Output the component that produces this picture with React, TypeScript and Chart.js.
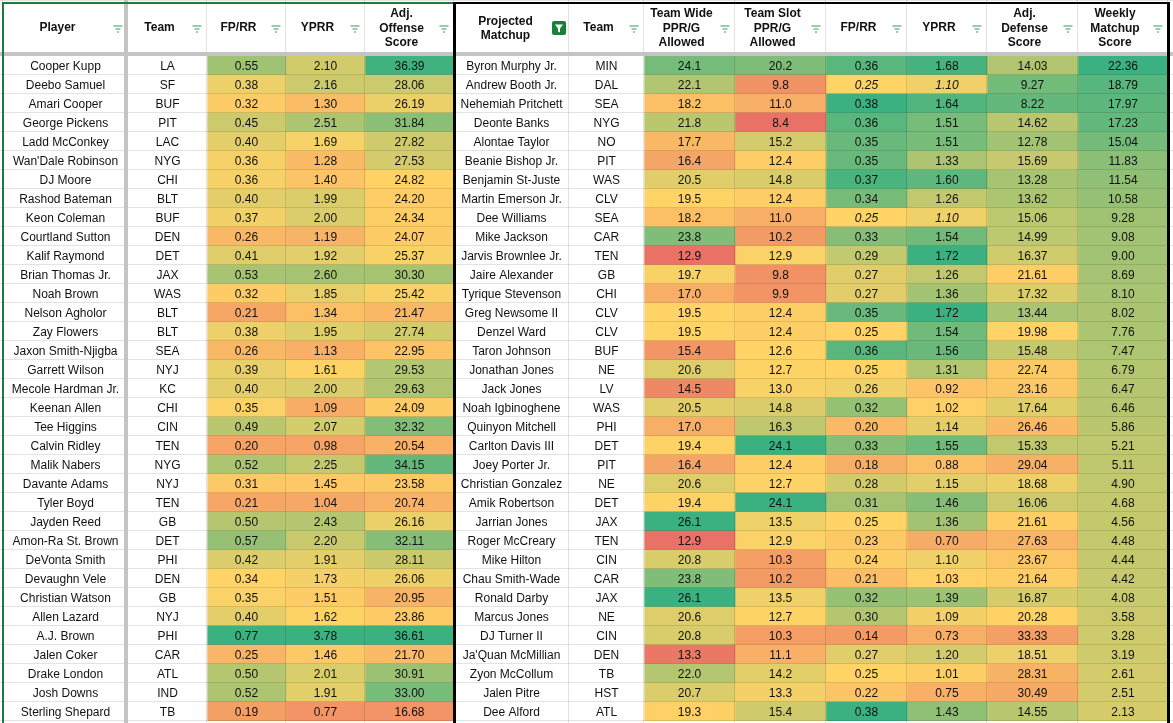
import React, { useEffect, useRef } from 'react';
import { Chart, registerables } from 'chart.js';

Chart.register(...registerables);

// ---------- data ----------
const players = [
  'Cooper Kupp', 'Deebo Samuel', 'Amari Cooper', 'George Pickens', 'Ladd McConkey', "Wan'Dale Robinson",
  'DJ Moore', 'Rashod Bateman', 'Keon Coleman', 'Courtland Sutton', 'Kalif Raymond', 'Brian Thomas Jr.',
  'Noah Brown', 'Nelson Agholor', 'Zay Flowers', 'Jaxon Smith-Njigba', 'Garrett Wilson', 'Mecole Hardman Jr.',
  'Keenan Allen', 'Tee Higgins', 'Calvin Ridley', 'Malik Nabers', 'Davante Adams', 'Tyler Boyd',
  'Jayden Reed', 'Amon-Ra St. Brown', 'DeVonta Smith', 'Devaughn Vele', 'Christian Watson', 'Allen Lazard',
  'A.J. Brown', 'Jalen Coker', 'Drake London', 'Josh Downs', 'Sterling Shepard',
];
const offTeams = [
  'LA', 'SF', 'BUF', 'PIT', 'LAC', 'NYG', 'CHI', 'BLT', 'BUF', 'DEN', 'DET', 'JAX', 'WAS', 'BLT', 'BLT', 'SEA',
  'NYJ', 'KC', 'CHI', 'CIN', 'TEN', 'NYG', 'NYJ', 'TEN', 'GB', 'DET', 'PHI', 'DEN', 'GB', 'NYJ', 'PHI', 'CAR',
  'ATL', 'IND', 'TB',
];
const offFpRr = [
  0.55, 0.38, 0.32, 0.45, 0.40, 0.36, 0.36, 0.40, 0.37, 0.26, 0.41, 0.53, 0.32, 0.21, 0.38, 0.26, 0.39, 0.40,
  0.35, 0.49, 0.20, 0.52, 0.31, 0.21, 0.50, 0.57, 0.42, 0.34, 0.35, 0.40, 0.77, 0.25, 0.50, 0.52, 0.19,
];
const offYprr = [
  2.10, 2.16, 1.30, 2.51, 1.69, 1.28, 1.40, 1.99, 2.00, 1.19, 1.92, 2.60, 1.85, 1.34, 1.95, 1.13, 1.61, 2.00,
  1.09, 2.07, 0.98, 2.25, 1.45, 1.04, 2.43, 2.20, 1.91, 1.73, 1.51, 1.62, 3.78, 1.46, 2.01, 1.91, 0.77,
];
const offScore = [
  36.39, 28.06, 26.19, 31.84, 27.82, 27.53, 24.82, 24.20, 24.34, 24.07, 25.37, 30.30, 25.42, 21.47, 27.74,
  22.95, 29.53, 29.63, 24.09, 32.32, 20.54, 34.15, 23.58, 20.74, 26.16, 32.11, 28.11, 26.06, 20.95, 23.86,
  36.61, 21.70, 30.91, 33.00, 16.68,
];
const defenders = [
  'Byron Murphy Jr.', 'Andrew Booth Jr.', 'Nehemiah Pritchett', 'Deonte Banks', 'Alontae Taylor',
  'Beanie Bishop Jr.', 'Benjamin St-Juste', 'Martin Emerson Jr.', 'Dee Williams', 'Mike Jackson',
  'Jarvis Brownlee Jr.', 'Jaire Alexander', 'Tyrique Stevenson', 'Greg Newsome II', 'Denzel Ward',
  'Taron Johnson', 'Jonathan Jones', 'Jack Jones', 'Noah Igbinoghene', 'Quinyon Mitchell', 'Carlton Davis III',
  'Joey Porter Jr.', 'Christian Gonzalez', 'Amik Robertson', 'Jarrian Jones', 'Roger McCreary', 'Mike Hilton',
  'Chau Smith-Wade', 'Ronald Darby', 'Marcus Jones', 'DJ Turner II', "Ja'Quan McMillian", 'Zyon McCollum',
  'Jalen Pitre', 'Dee Alford',
];
const defTeams = [
  'MIN', 'DAL', 'SEA', 'NYG', 'NO', 'PIT', 'WAS', 'CLV', 'SEA', 'CAR', 'TEN', 'GB', 'CHI', 'CLV', 'CLV', 'BUF',
  'NE', 'LV', 'WAS', 'PHI', 'DET', 'PIT', 'NE', 'DET', 'JAX', 'TEN', 'CIN', 'CAR', 'JAX', 'NE', 'CIN', 'DEN',
  'TB', 'HST', 'ATL',
];
const teamWideAllowed = [
  24.1, 22.1, 18.2, 21.8, 17.7, 16.4, 20.5, 19.5, 18.2, 23.8, 12.9, 19.7, 17.0, 19.5, 19.5, 15.4, 20.6, 14.5,
  20.5, 17.0, 19.4, 16.4, 20.6, 19.4, 26.1, 12.9, 20.8, 23.8, 26.1, 20.6, 20.8, 13.3, 22.0, 20.7, 19.3,
];
const teamSlotAllowed = [
  20.2, 9.8, 11.0, 8.4, 15.2, 12.4, 14.8, 12.4, 11.0, 10.2, 12.9, 9.8, 9.9, 12.4, 12.4, 12.6, 12.7, 13.0,
  14.8, 16.3, 24.1, 12.4, 12.7, 24.1, 13.5, 12.9, 10.3, 10.2, 13.5, 12.7, 10.3, 11.1, 14.2, 13.3, 15.4,
];
const defFpRr = [
  0.36, 0.25, 0.38, 0.36, 0.35, 0.35, 0.37, 0.34, 0.25, 0.33, 0.29, 0.27, 0.27, 0.35, 0.25, 0.36, 0.25, 0.26,
  0.32, 0.20, 0.33, 0.18, 0.28, 0.31, 0.25, 0.23, 0.24, 0.21, 0.32, 0.30, 0.14, 0.27, 0.25, 0.22, 0.38,
];
const defYprr = [
  1.68, 1.10, 1.64, 1.51, 1.51, 1.33, 1.60, 1.26, 1.10, 1.54, 1.72, 1.26, 1.36, 1.72, 1.54, 1.56, 1.31, 0.92,
  1.02, 1.14, 1.55, 0.88, 1.15, 1.46, 1.36, 0.70, 1.10, 1.03, 1.39, 1.09, 0.73, 1.20, 1.01, 0.75, 1.43,
];
const defScore = [
  14.03, 9.27, 8.22, 14.62, 12.78, 15.69, 13.28, 13.62, 15.06, 14.99, 16.37, 21.61, 17.32, 13.44, 19.98,
  15.48, 22.74, 23.16, 17.64, 26.46, 15.33, 29.04, 18.68, 16.06, 21.61, 27.63, 23.67, 21.64, 16.87, 20.28,
  33.33, 18.51, 28.31, 30.49, 14.55,
];
const weeklyMatchupScore = [
  22.36, 18.79, 17.97, 17.23, 15.04, 11.83, 11.54, 10.58, 9.28, 9.08, 9.00, 8.69, 8.10, 8.02, 7.76, 7.47,
  6.79, 6.47, 6.46, 5.86, 5.21, 5.11, 4.90, 4.68, 4.56, 4.48, 4.44, 4.42, 4.08, 3.58, 3.28, 3.19, 2.61, 2.51,
  2.13,
];
const italicDefenders = ['Andrew Booth Jr.', 'Dee Williams'];

const headerLabels = [
  ['Player'], ['Team'], ['FP/RR'], ['YPRR'], ['Adj.', 'Offense', 'Score'],
  ['Projected', 'Matchup'], ['Team'], ['Team Wide', 'PPR/G', 'Allowed'], ['Team Slot', 'PPR/G', 'Allowed'],
  ['FP/RR'], ['YPRR'], ['Adj.', 'Defense', 'Score'], ['Weekly', 'Matchup', 'Score'],
];

// ---------- layout / style ----------
const W = 1173;
const H = 723;
const colEdges = [3, 128, 207, 286, 365, 454, 569, 644, 735, 826, 907, 987, 1078, 1168];
const FONT = '"Liberation Sans", Arial, sans-serif';
const RED = [234, 113, 101];
const YEL = [255, 211, 102];
const GRN = [59, 177, 129];

type Col = {
  text?: string[];
  values?: number[];
  decimals?: number;
  scale?: [number, number, number];
  reverse?: boolean;
  italic?: boolean;
};

const columns: Col[] = [
  { text: players },
  { text: offTeams },
  { values: offFpRr, decimals: 2, scale: [0.05, 0.34, 0.77] },
  { values: offYprr, decimals: 2, scale: [0.3, 1.6, 3.78] },
  { values: offScore, decimals: 2, scale: [12, 25, 36.61] },
  { text: defenders },
  { text: defTeams },
  { values: teamWideAllowed, decimals: 1, scale: [12.9, 19.5, 26.1] },
  { values: teamSlotAllowed, decimals: 1, scale: [8.4, 12.6, 24.1] },
  { values: defFpRr, decimals: 2, scale: [0.06, 0.25, 0.38], italic: true },
  { values: defYprr, decimals: 2, scale: [0.2, 1.05, 1.72], italic: true },
  { values: defScore, decimals: 2, scale: [5, 20, 45], reverse: true },
  { values: weeklyMatchupScore, decimals: 2, scale: [-20, -3, 22.36] },
];

function mix(a: number[], b: number[], t: number) {
  const c = a.map((v, i) => Math.round(v + (b[i] - v) * t));
  return `rgb(${c[0]},${c[1]},${c[2]})`;
}

function heat(v: number, scale: [number, number, number], reverse?: boolean) {
  const [lo, mid, hi] = scale;
  let t = v >= mid ? Math.min(1, (v - mid) / (hi - mid)) : -Math.min(1, (mid - v) / (mid - lo));
  if (reverse) t = -t;
  return t >= 0 ? mix(YEL, GRN, t) : mix(YEL, RED, -t);
}

function cellText(c: Col, i: number) {
  if (c.text) return c.text[i];
  return (c.values as number[])[i].toFixed(c.decimals);
}

function drawFilterIcon(ctx: CanvasRenderingContext2D, right: number) {
  ctx.fillStyle = '#2e9c58';
  const cx = right - 10;
  ctx.fillRect(cx - 4.5, 25.5, 9, 1);
  ctx.fillRect(cx - 2.5, 28.5, 5, 1);
  ctx.fillRect(cx - 1, 31.5, 2, 1);
}

function drawActiveFilter(ctx: CanvasRenderingContext2D, right: number) {
  const x = right - 17;
  const y = 21;
  const s = 14;
  ctx.fillStyle = '#188038';
  ctx.beginPath();
  (ctx as any).roundRect ? (ctx as any).roundRect(x, y, s, s, 2) : ctx.rect(x, y, s, s);
  ctx.fill();
  ctx.fillStyle = '#ffffff';
  ctx.beginPath();
  ctx.moveTo(x + 3, y + 3.5);
  ctx.lineTo(x + 11, y + 3.5);
  ctx.lineTo(x + 8, y + 7.5);
  ctx.lineTo(x + 8, y + 11.5);
  ctx.lineTo(x + 6, y + 10.5);
  ctx.lineTo(x + 6, y + 7.5);
  ctx.closePath();
  ctx.fill();
}

const tablePlugin = {
  id: 'sheetTable',
  beforeDraw(chart: any) {
    const ctx = chart.ctx as CanvasRenderingContext2D;
    ctx.save();
    ctx.fillStyle = '#ffffff';
    ctx.fillRect(0, 0, W, H);
    ctx.restore();
  },
  afterDatasetsDraw(chart: any) {
    const ctx = chart.ctx as CanvasRenderingContext2D;
    const xs = chart.scales.x;
    ctx.save();
    // grid lines
    ctx.fillStyle = 'rgba(0,0,0,0.11)';
    const meta0 = chart.getDatasetMeta(0);
    meta0.data.forEach((el: any) => {
      const p = el.getProps(['y', 'height'], true);
      const yb = Math.round(p.y + p.height / 2) - 1;
      ctx.fillRect(0, yb, W, 1);
    });
    ctx.fillRect(0, 0, W, 1);
    colEdges.forEach((e) => {
      const px = Math.round(xs.getPixelForValue(e)) - 1;
      ctx.fillRect(px, 0, 1, H);
    });
    // cell texts
    ctx.textAlign = 'center';
    ctx.textBaseline = 'middle';
    ctx.fillStyle = '#111111';
    chart.data.datasets.forEach((ds: any, di: number) => {
      const col = columns[di];
      const meta = chart.getDatasetMeta(di);
      meta.data.forEach((el: any, i: number) => {
        const p = el.getProps(['x', 'y', 'base'], true);
        const cx = (p.x + p.base) / 2;
        const ital = col.italic && italicDefenders.includes(defenders[i]);
        ctx.font = `${ital ? 'italic ' : ''}12px ${FONT}`;
        ctx.fillText(cellText(col, i), cx, p.y + 1);
      });
    });
    ctx.restore();
  },
  afterDraw(chart: any) {
    const ctx = chart.ctx as CanvasRenderingContext2D;
    const xs = chart.scales.x;
    ctx.save();
    // header labels
    ctx.textAlign = 'center';
    ctx.textBaseline = 'middle';
    ctx.font = `bold 12px ${FONT}`;
    headerLabels.forEach((lines, c) => {
      const left = xs.getPixelForValue(colEdges[c]);
      const right = xs.getPixelForValue(colEdges[c + 1]);
      const active = c === 5;
      const cx = active ? (left + right - 12) / 2 : (left + right - 16) / 2;
      const ys = lines.length === 1 ? [28] : lines.length === 2 ? [21.5, 36] : [14, 28.5, 43];
      ctx.fillStyle = '#111111';
      lines.forEach((t, k) => ctx.fillText(t, cx, ys[k]));
      if (active) drawActiveFilter(ctx, right);
      else drawFilterIcon(ctx, right);
    });
    // freeze lines
    ctx.fillStyle = '#c4c4c4';
    ctx.fillRect(0, 52, W, 4);
    ctx.fillRect(124, 0, 4, H);
    // green border (left block)
    ctx.fillStyle = '#1f7a3e';
    ctx.fillRect(2, 2, 452, 2);
    ctx.fillRect(2, 2, 2, H);
    // black border (right block)
    ctx.fillStyle = '#000000';
    ctx.fillRect(454, 2, 716, 2);
    ctx.fillRect(453, 2, 3, H);
    ctx.fillRect(1167, 2, 3, H);
    ctx.restore();
  },
};

export default function App() {
  const canvasRef = useRef<HTMLCanvasElement | null>(null);

  useEffect(() => {
    document.body.style.margin = '0';
    const canvas = canvasRef.current;
    if (!canvas) return;
    const datasets = columns.map((col, c) => ({
      label: headerLabels[c].join(' '),
      data: players.map(() => [colEdges[c], colEdges[c + 1]]),
      backgroundColor: players.map((_, i) =>
        col.values && col.scale ? heat(col.values[i], col.scale, col.reverse) : '#ffffff'
      ),
      borderWidth: 0,
      grouped: false,
      categoryPercentage: 1,
      barPercentage: 1,
    }));
    const chart = new Chart(canvas, {
      type: 'bar',
      data: { labels: players, datasets: datasets as any },
      options: {
        indexAxis: 'y',
        animation: false,
        responsive: false,
        devicePixelRatio: 1,
        layout: { padding: { top: 56, bottom: 2, left: 0, right: 0 } },
        plugins: { legend: { display: false }, tooltip: { enabled: false } },
        scales: {
          x: { type: 'linear', min: 0, max: W, display: false, grid: { display: false } },
          y: { type: 'category', display: false, grid: { display: false }, offset: true },
        },
      } as any,
      plugins: [tablePlugin as any],
    });
    return () => chart.destroy();
  }, []);

  return (
    <canvas
      ref={canvasRef}
      width={W}
      height={H}
      style={{ display: 'block', position: 'absolute', left: 0, top: 0, width: W, height: H }}
    />
  );
}
